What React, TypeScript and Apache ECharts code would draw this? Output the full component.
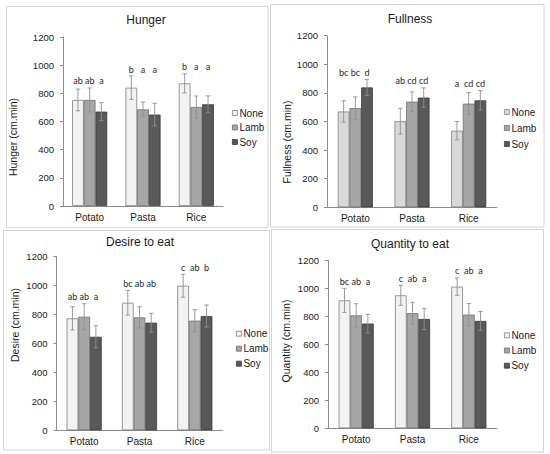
import React, { useEffect, useRef } from 'react';
import * as echarts from 'echarts';

// ---------- data ----------
const categories = ['Potato', 'Pasta', 'Rice'];
const groupNames = ['None', 'Lamb', 'Soy'];

const hungerNone = [753, 840, 871];
const hungerLamb = [753, 686, 703];
const hungerSoy = [670, 649, 722];
const hungerNoneErr = [77, 83, 68];
const hungerLambErr = [85, 52, 78];
const hungerSoyErr = [64, 80, 60];
const hungerNoneLetters = ['ab', 'b', 'b'];
const hungerLambLetters = ['ab', 'a', 'a'];
const hungerSoyLetters = ['a', 'a', 'a'];

const fullnessNone = [670, 602, 536];
const fullnessLamb = [694, 739, 725];
const fullnessSoy = [838, 767, 748];
const fullnessNoneErr = [75, 90, 64];
const fullnessLambErr = [78, 68, 77];
const fullnessSoyErr = [56, 68, 68];
const fullnessNoneLetters = ['bc', 'ab', 'a'];
const fullnessLambLetters = ['bc', 'cd', 'cd'];
const fullnessSoyLetters = ['d', 'cd', 'cd'];

const desireNone = [772, 880, 997];
const desireLamb = [783, 779, 756];
const desireSoy = [645, 742, 788];
const desireNoneErr = [80, 85, 79];
const desireLambErr = [90, 73, 76];
const desireSoyErr = [76, 65, 76];
const desireNoneLetters = ['ab', 'bc', 'c'];
const desireLambLetters = ['ab', 'ab', 'ab'];
const desireSoyLetters = ['a', 'ab', 'b'];

const quantityNone = [914, 950, 1012];
const quantityLamb = [807, 822, 812];
const quantitySoy = [748, 781, 767];
const quantityNoneErr = [86, 71, 62];
const quantityLambErr = [83, 78, 79];
const quantitySoyErr = [66, 76, 68];
const quantityNoneLetters = ['bc', 'c', 'c'];
const quantityLambLetters = ['ab', 'ab', 'ab'];
const quantitySoyLetters = ['a', 'a', 'a'];

const yMin = 0;
const yMax = 1200;
const yStep = 200;

// ---------- layout / style ----------
const FONT = '"Liberation Sans", Arial, sans-serif';
const LETTER_FONT = 'Lato, "Open Sans", sans-serif';
const BAR_W = 11.7;
const AXIS_COLOR = '#8c8c8c';
const TEXT_COLOR = '#1a1a1a';

const panels = [
  {
    title: 'Hunger', yName: 'Hunger (cm.min)',
    values: [hungerNone, hungerLamb, hungerSoy],
    errors: [hungerNoneErr, hungerLambErr, hungerSoyErr],
    letters: [hungerNoneLetters, hungerLambLetters, hungerSoyLetters],
    colors: ['#f2f2f2', '#a6a6a6', '#595959'],
    grid: { left: 63, top: 37, width: 160, height: 169 },
    titlePos: [146, 20], yNamePos: [13, 137],
    legend: { left: 232, top: 108, itemGap: 4.5 },
    frame: { x: 6.5, y: 6.5, width: 261.5, height: 221 },
  },
  {
    title: 'Fullness', yName: 'Fullness (cm.min)',
    values: [fullnessNone, fullnessLamb, fullnessSoy],
    errors: [fullnessNoneErr, fullnessLambErr, fullnessSoyErr],
    letters: [fullnessNoneLetters, fullnessLambLetters, fullnessSoyLetters],
    colors: ['#d9d9d9', '#a6a6a6', '#595959'],
    grid: { left: 327, top: 35.7, width: 170, height: 171.6 },
    titlePos: [410, 19], yNamePos: [287, 142],
    legend: { left: 504, top: 107, itemGap: 6 },
    frame: { x: 270.5, y: 4.5, width: 273.5, height: 222.5 },
  },
  {
    title: 'Desire to eat', yName: 'Desire (cm.min)',
    values: [desireNone, desireLamb, desireSoy],
    errors: [desireNoneErr, desireLambErr, desireSoyErr],
    letters: [desireNoneLetters, desireLambLetters, desireSoyLetters],
    colors: ['#f2f2f2', '#a6a6a6', '#595959'],
    grid: { left: 56.5, top: 256.3, width: 166, height: 174 },
    titlePos: [140, 242], yNamePos: [15, 325],
    legend: { left: 236, top: 328.7, itemGap: 5 },
    frame: { x: 3.5, y: 230.5, width: 266, height: 219.5 },
  },
  {
    title: 'Quantity to eat', yName: 'Quantity (cm.min)',
    values: [quantityNone, quantityLamb, quantitySoy],
    errors: [quantityNoneErr, quantityLambErr, quantitySoyErr],
    letters: [quantityNoneLetters, quantityLambLetters, quantitySoyLetters],
    colors: ['#f2f2f2', '#a6a6a6', '#595959'],
    grid: { left: 328, top: 260.3, width: 169, height: 168 },
    titlePos: [410, 244], yNamePos: [286, 341],
    legend: { left: 504, top: 330.3, itemGap: 5.2 },
    frame: { x: 271.5, y: 229.5, width: 272, height: 222.5 },
  },
];

const borderColors = ['#7f7f7f', '#6f6f6f', '#3a3a3a'];

function buildOption() {
  const series: any[] = [];
  panels.forEach((p, i) => {
    groupNames.forEach((name, s) => {
      series.push({
        type: 'bar',
        name,
        xAxisIndex: i,
        yAxisIndex: i,
        data: p.values[s],
        barWidth: BAR_W,
        barGap: '0%',
        itemStyle: { color: p.colors[s], borderColor: borderColors[s], borderWidth: 0.8 },
        emphasis: { disabled: true },
        z: 2,
      });
    });
    const errData: number[][] = [];
    groupNames.forEach((_, s) => {
      categories.forEach((_, c) => {
        errData.push([c, s, p.values[s][c], p.errors[s][c]]);
      });
    });
    series.push({
      type: 'custom',
      xAxisIndex: i,
      yAxisIndex: i,
      z: 3,
      silent: true,
      encode: { x: 0, y: 2 },
      data: errData,
      renderItem: (params: any, api: any) => {
        const c = api.value(0);
        const s = api.value(1);
        const v = api.value(2);
        const e = api.value(3);
        const x = api.coord([c, v])[0] + (s - 1) * BAR_W;
        const yT = api.coord([c, v + e])[1];
        const yB = api.coord([c, v - e])[1];
        const st = { stroke: '#8f8f8f', lineWidth: 0.9 };
        return {
          type: 'group',
          children: [
            { type: 'line', shape: { x1: x, y1: yT, x2: x, y2: yB }, style: st },
            { type: 'line', shape: { x1: x - 2.2, y1: yT, x2: x + 2.2, y2: yT }, style: st },
            { type: 'line', shape: { x1: x - 2.2, y1: yB, x2: x + 2.2, y2: yB }, style: st },
          ],
        };
      },
    });
    const letterData: number[][] = [];
    categories.forEach((_, c) => {
      const top = Math.max(...groupNames.map((__, s) => p.values[s][c] + p.errors[s][c]));
      groupNames.forEach((__, s) => letterData.push([c, s, top]));
    });
    series.push({
      type: 'custom',
      xAxisIndex: i,
      yAxisIndex: i,
      z: 4,
      silent: true,
      encode: { x: 0, y: 2 },
      data: letterData,
      renderItem: (params: any, api: any) => {
        const c = api.value(0);
        const s = api.value(1);
        const top = api.value(2);
        const pt = api.coord([c, top]);
        return {
          type: 'text',
          x: pt[0] + (s - 1) * BAR_W,
          y: pt[1] - 7,
          style: {
            text: p.letters[s][c],
            fill: '#262626',
            fontSize: 9,
            fontWeight: 'normal',
            fontFamily: LETTER_FONT,
            align: 'center',
            verticalAlign: 'middle',
          },
        };
      },
    });
  });

  const graphic: any[] = [];
  panels.forEach((p) => {
    graphic.push({
      type: 'rect',
      silent: true,
      shape: { x: p.frame.x, y: p.frame.y, width: p.frame.width, height: p.frame.height },
      style: { fill: 'none', stroke: '#d4d4d4', lineWidth: 1 },
      z: -1,
    });
    graphic.push({
      type: 'text',
      x: p.titlePos[0],
      y: p.titlePos[1],
      style: {
        text: p.title,
        fill: TEXT_COLOR,
        fontSize: 12,
        fontWeight: 'normal',
        fontFamily: FONT,
        align: 'center',
        verticalAlign: 'middle',
      },
    });
    graphic.push({
      type: 'text',
      x: p.yNamePos[0],
      y: p.yNamePos[1],
      rotation: Math.PI / 2,
      style: {
        text: p.yName,
        fill: TEXT_COLOR,
        fontSize: 10.5,
        fontWeight: 'normal',
        fontFamily: FONT,
        align: 'center',
        verticalAlign: 'middle',
      },
    });
  });

  return {
    animation: false,
    backgroundColor: '#ffffff',
    grid: panels.map((p) => ({ ...p.grid, containLabel: false })),
    xAxis: panels.map((p, i) => ({
      type: 'category',
      gridIndex: i,
      data: categories,
      axisLine: { show: true, lineStyle: { color: AXIS_COLOR, width: 1 } },
      axisTick: { show: false },
      axisLabel: { color: TEXT_COLOR, fontSize: 10, fontFamily: FONT, margin: 6 },
      splitLine: { show: false },
    })),
    yAxis: panels.map((p, i) => ({
      type: 'value',
      gridIndex: i,
      min: yMin,
      max: yMax,
      interval: yStep,
      axisLine: { show: true, lineStyle: { color: AXIS_COLOR, width: 1 } },
      axisTick: { show: true, length: 3, lineStyle: { color: AXIS_COLOR } },
      axisLabel: {
        color: TEXT_COLOR,
        fontSize: 9.5,
        fontFamily: FONT,
        margin: 9,
        formatter: (v: number) => String(v),
      },
      splitLine: { show: false },
    })),
    legend: panels.map((p) => ({
      orient: 'vertical',
      left: p.legend.left,
      top: p.legend.top,
      itemGap: p.legend.itemGap,
      itemWidth: 5,
      itemHeight: 5,
      icon: 'rect',
      selectedMode: false,
      padding: 0,
      textStyle: { color: TEXT_COLOR, fontSize: 10, fontFamily: FONT, padding: [0, 0, 0, -3] },
      data: groupNames.map((n, s) => ({
        name: n,
        itemStyle: { color: p.colors[s], borderColor: borderColors[s], borderWidth: 0.8 },
      })),
    })),
    series,
    graphic,
  };
}

export default function App() {
  const ref = useRef<HTMLDivElement>(null);
  useEffect(() => {
    if (!ref.current) return;
    const chart = echarts.init(ref.current, undefined, { renderer: 'svg' });
    chart.setOption(buildOption() as any);
    return () => chart.dispose();
  }, []);
  return (
    <div
      ref={ref}
      style={{ position: 'absolute', left: 0, top: 0, width: 550, height: 454, background: '#fff' }}
    />
  );
}
